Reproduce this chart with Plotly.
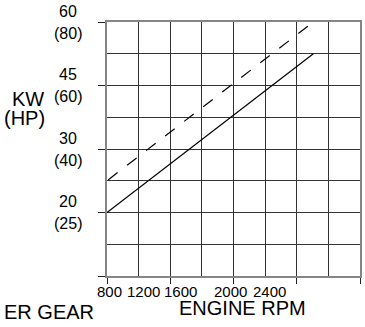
import plotly.graph_objects as go

# Engine output vs speed
rpm_solid = [800, 2105]
kw_solid = [15.0, 52.5]
rpm_dashed = [2070, 800]          # drawn from the high end down
kw_dashed = [59.0, 22.5]

x_tick_labels = ["800", "1200", "1600", "2000", "2400"]
kw_tick_values = [15, 30, 45, 60]
kw_tick_labels = ["20", "30", "45", "60"]
hp_tick_labels = ["(25)", "(40)", "(60)", "(80)"]

FONT = "Liberation Sans, Arial, Helvetica, sans-serif"
GRID = "#333333"
FRAME = "#858585"

fig = go.Figure()
fig.add_trace(go.Scatter(x=rpm_solid, y=kw_solid, mode="lines",
                         line=dict(color="black", width=1.2), hoverinfo="skip"))
fig.add_trace(go.Scatter(x=rpm_dashed, y=kw_dashed, mode="lines",
                         line=dict(color="black", width=1.2, dash="12px,12px"),
                         hoverinfo="skip"))

W, H = 365, 327
L, R, T, B = 107, 3, 22, 51
pw, ph = W - L - R, H - T - B

def px_x(p):
    return (p - L) / pw

def px_y(p):
    return (H - B - p) / ph

ann = []
# y tick labels: kW above the gridline, HP below, centred on one column
for v, k, h in zip(kw_tick_values, kw_tick_labels, hp_tick_labels):
    ann.append(dict(text=k, xref="paper", yref="y", x=px_x(68), y=v, yshift=11,
                    xanchor="center", yanchor="middle", showarrow=False,
                    font=dict(size=16)))
    ann.append(dict(text=h, xref="paper", yref="y", x=px_x(68), y=v, yshift=-11,
                    xanchor="center", yanchor="middle", showarrow=False,
                    font=dict(size=16)))

# x tick labels, set in a packed row under the left half of the grid
label_px = [110, 143.5, 181, 231.5, 270.5]
for t, p in zip(x_tick_labels, label_px):
    ann.append(dict(text=t, xref="paper", yref="paper", x=px_x(p), y=px_y(291.5),
                    xanchor="center", yanchor="middle", showarrow=False,
                    font=dict(size=15)))

ann.append(dict(text="KW", xref="paper", yref="paper", x=px_x(27), y=px_y(99),
                xanchor="center", yanchor="middle", showarrow=False, font=dict(size=20)))
ann.append(dict(text="(HP)", xref="paper", yref="paper", x=px_x(24), y=px_y(118),
                xanchor="center", yanchor="middle", showarrow=False, font=dict(size=20)))
ann.append(dict(text="ENGINE RPM", xref="paper", yref="paper", x=px_x(243.5), y=px_y(308),
                xanchor="center", yanchor="middle", showarrow=False, font=dict(size=20)))
ann.append(dict(text="ER GEAR", xref="paper", yref="paper", x=px_x(1), y=px_y(312),
                xanchor="left", yanchor="middle", showarrow=False, font=dict(size=20)))

fig.update_layout(
    width=W, height=H,
    margin=dict(l=L, r=R, t=T, b=B, pad=0),
    paper_bgcolor="white", plot_bgcolor="white",
    showlegend=False,
    font=dict(family=FONT, color="black"),
    annotations=ann,
    xaxis=dict(range=[800, 2400], tickmode="linear", tick0=800, dtick=400,
               ticks="outside", ticklen=6, tickcolor="#222", tickwidth=1,
               showticklabels=False, showgrid=True, gridcolor=GRID, gridwidth=1,
               minor=dict(dtick=200, showgrid=True, gridcolor=GRID, gridwidth=1, ticks=""),
               showline=True, mirror=True, linecolor=FRAME, linewidth=2,
               zeroline=False, fixedrange=True),
    yaxis=dict(range=[0, 60], tickmode="array", tickvals=[0] + kw_tick_values,
               ticks="outside", ticklen=7, tickcolor="#222", tickwidth=1,
               showticklabels=False, showgrid=True, gridcolor=GRID, gridwidth=1,
               minor=dict(dtick=7.5, showgrid=True, gridcolor=GRID, gridwidth=1, ticks=""),
               showline=True, mirror=True, linecolor=FRAME, linewidth=2,
               zeroline=False, fixedrange=True),
)

fig.write_html("out.html", config=dict(displayModeBar=False))
